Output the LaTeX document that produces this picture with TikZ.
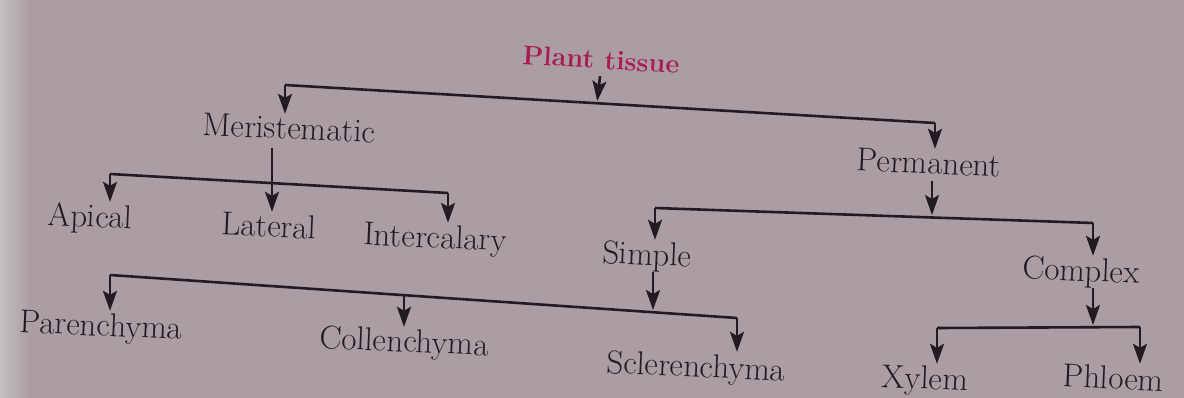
\documentclass[tikz,border=0pt]{standalone}
\usetikzlibrary{arrows.meta}
\definecolor{bg}{RGB}{170,158,164}
\definecolor{edge}{RGB}{196,193,195}
\definecolor{ink}{RGB}{34,28,34}
\definecolor{titlec}{RGB}{170,28,80}
\tikzset{
  lbl/.style={font=\fontsize{33}{36}\selectfont, text=ink, inner sep=0pt, text height=23pt, text depth=7pt, rotate=-2.5},
  flat/.style={rotate=0},
  ttl/.style={lbl, font=\fontsize{27}{30}\selectfont\bfseries, text=titlec, rotate=-1},
  conn/.style={draw=ink, line width=2.6pt, line join=miter},
  arr/.style={conn, -{Stealth[length=20pt,width=14pt,inset=4pt]}, shorten >=2pt},
}
\begin{document}
\begin{tikzpicture}[x=1pt,y=-1pt]
\fill[bg] (0,0) rectangle (1184,398);
\shade[left color=edge, right color=bg] (0,0) rectangle (30,398);
\useasboundingbox (0,0) rectangle (1184,398);

\node[ttl] (plant) at (601,61) {Plant tissue};
\node[lbl] (mer) at (289,131) {Meristematic};
\node[lbl] (perm) at (929,166) {Permanent};
\node[lbl] (apical) at (90,219) {Apical};
\node[lbl] (lat) at (269,229) {Lateral};
\node[lbl] (inter) at (435,240) {Intercalary};
\node[lbl] (simple) at (647,257) {Simple};
\node[lbl,flat] (complex) at (1081,273) {Complex};
\node[lbl] (paren) at (101,328) {Parenchyma};
\node[lbl] (collen) at (404,344) {Collenchyma};
\node[lbl] (scler) at (696,369) {Sclerenchyma};
\node[lbl,flat] (xylem) at (925,381) {Xylem};
\node[lbl,flat] (phloem) at (1113,381) {Phloem};

% Plant tissue
\coordinate (b1l) at (285,85);
\coordinate (b1r) at (935,123);
\coordinate (b1m) at (597,103);
\draw[arr] (plant.south) -- (b1m);
\draw[conn] (b1l) -- (b1r);
\draw[arr] (b1l) -- (b1l |- mer.north);
\draw[arr] (b1r) -- (b1r |- perm.north);

% Meristematic
\coordinate (b2l) at (110,174);
\coordinate (b2r) at (448,193);
\draw[conn] (b2l) -- (b2r);
\draw[arr] (272,148) -- (272,0 |- lat.north);
\draw[arr] (b2l) -- (b2l |- apical.north);
\draw[arr] (b2r) -- (b2r |- inter.north);

% Permanent
\coordinate (b3l) at (655,208);
\coordinate (b3r) at (1093,223);
\coordinate (b3m) at (932,217);
\draw[arr] (b3m |- perm.south) -- (b3m);
\draw[conn] (b3l) -- (b3r);
\draw[arr] (b3l) -- (b3l |- simple.north);
\draw[arr] (b3r) -- (b3r |- complex.north);

% Simple
\coordinate (b4l) at (110,275);
\coordinate (b4r) at (737,318);
\coordinate (b4m) at (653,312);
\coordinate (b4c) at (404,295);
\draw[arr] (b4m |- simple.south) -- (b4m);
\draw[conn] (b4l) -- (b4r);
\draw[arr] (b4l) -- (b4l |- paren.north);
\draw[arr] (b4c) -- (b4c |- collen.north);
\draw[arr] (b4r) -- (b4r |- scler.north);

% Complex
\coordinate (b5l) at (937,328);
\coordinate (b5r) at (1140,327);
\coordinate (b5m) at (1093,327);
\draw[arr] (b5m |- complex.south) -- (b5m);
\draw[conn] (b5l) -- (b5r);
\draw[arr] (b5l) -- (b5l |- xylem.north);
\draw[arr] (b5r) -- (b5r |- phloem.north);
\end{tikzpicture}
\end{document}
